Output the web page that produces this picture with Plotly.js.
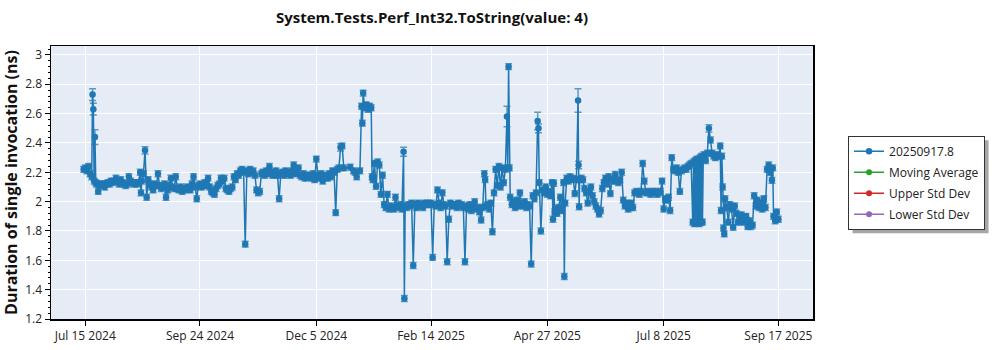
<!DOCTYPE html>
<html>
<head>
<meta charset="utf-8">
<script src="https://cdn.plot.ly/plotly-3.0.1.min.js"></script>
<style>html,body{margin:0;padding:0;background:#fff;}#chart{width:1000px;height:350px;}</style>
</head>
<body>
<div id="chart"></div>
<script>
const chartTitle = 'System.Tests.Perf_Int32.ToString(value: 4)';
const yTitle = 'Duration of single invocation (ns)';
const seriesNames = ['20250917.8', 'Moving Average', 'Upper Std Dev', 'Lower Std Dev'];
const seriesColors = ['#1f77b4', '#2ca02c', '#d62728', '#9467bd'];
const xTickDates = ['2024-07-15', '2024-09-24', '2024-12-05', '2025-02-14', '2025-04-27', '2025-07-08', '2025-09-17'];

const dates = [
  // Jul 2024
  '2024-07-14','2024-07-15','2024-07-16','2024-07-17','2024-07-18','2024-07-19','2024-07-19 12:00','2024-07-20','2024-07-20 12:00','2024-07-21','2024-07-21 12:00','2024-07-22','2024-07-23','2024-07-24','2024-07-25','2024-07-26','2024-07-27','2024-07-28','2024-07-29','2024-07-30','2024-07-31',
  // Aug 2024
  '2024-08-01','2024-08-02','2024-08-03','2024-08-04','2024-08-05','2024-08-06','2024-08-07','2024-08-08','2024-08-09','2024-08-10','2024-08-11','2024-08-12','2024-08-13','2024-08-14','2024-08-15','2024-08-16','2024-08-17','2024-08-18','2024-08-18 12:00','2024-08-19','2024-08-20','2024-08-21','2024-08-22','2024-08-23','2024-08-24','2024-08-25','2024-08-26','2024-08-27','2024-08-28','2024-08-29','2024-08-30','2024-08-31',
  // Sep 2024
  '2024-09-01','2024-09-02','2024-09-03','2024-09-04','2024-09-05','2024-09-06','2024-09-07','2024-09-08','2024-09-09','2024-09-10','2024-09-11','2024-09-12','2024-09-13','2024-09-14','2024-09-15','2024-09-16','2024-09-17','2024-09-18','2024-09-19','2024-09-20','2024-09-21','2024-09-22','2024-09-23','2024-09-24','2024-09-25','2024-09-26','2024-09-27','2024-09-28','2024-09-29','2024-09-30',
  // Oct 2024
  '2024-10-01','2024-10-02','2024-10-03','2024-10-04','2024-10-05','2024-10-06','2024-10-07','2024-10-08','2024-10-09','2024-10-10','2024-10-11','2024-10-12','2024-10-13','2024-10-14','2024-10-15','2024-10-16','2024-10-17','2024-10-18','2024-10-19','2024-10-20','2024-10-21','2024-10-22','2024-10-23','2024-10-24','2024-10-25','2024-10-26','2024-10-27','2024-10-28','2024-10-29','2024-10-30','2024-10-31',
  // Nov 2024
  '2024-11-01','2024-11-02','2024-11-03','2024-11-04','2024-11-05','2024-11-06','2024-11-07','2024-11-08','2024-11-09','2024-11-10','2024-11-11','2024-11-12','2024-11-13','2024-11-14','2024-11-15','2024-11-16','2024-11-17','2024-11-18','2024-11-19','2024-11-20','2024-11-21','2024-11-22','2024-11-23','2024-11-24','2024-11-25','2024-11-26','2024-11-27','2024-11-28','2024-11-29','2024-11-30',
  // Dec 2024
  '2024-12-01','2024-12-02','2024-12-03','2024-12-04','2024-12-05','2024-12-06','2024-12-07','2024-12-08','2024-12-09','2024-12-10','2024-12-11','2024-12-12','2024-12-13','2024-12-14','2024-12-15','2024-12-16','2024-12-17','2024-12-18','2024-12-19','2024-12-20','2024-12-21','2024-12-22','2024-12-26','2024-12-28','2024-12-29','2024-12-30',
  // Jan 2025
  '2025-01-01','2025-01-02','2025-01-02 12:00','2025-01-03','2025-01-04','2025-01-05','2025-01-06','2025-01-07','2025-01-08','2025-01-08 12:00','2025-01-09','2025-01-10','2025-01-11','2025-01-12','2025-01-13','2025-01-14','2025-01-15','2025-01-16','2025-01-17','2025-01-18','2025-01-19','2025-01-20','2025-01-21','2025-01-22','2025-01-23','2025-01-24','2025-01-25','2025-01-26','2025-01-27','2025-01-28','2025-01-28 12:00','2025-01-29','2025-01-30','2025-01-31',
  // Feb 2025
  '2025-02-01','2025-02-02','2025-02-03','2025-02-04','2025-02-05','2025-02-06','2025-02-07','2025-02-08','2025-02-09','2025-02-10','2025-02-11','2025-02-12','2025-02-13','2025-02-14','2025-02-15','2025-02-16','2025-02-17','2025-02-18','2025-02-19','2025-02-20','2025-02-21','2025-02-22','2025-02-23','2025-02-24','2025-02-25','2025-02-26','2025-02-27','2025-02-28',
  // Mar 2025
  '2025-03-01','2025-03-02','2025-03-03','2025-03-04','2025-03-05','2025-03-06','2025-03-07','2025-03-08','2025-03-09','2025-03-10','2025-03-11','2025-03-12','2025-03-13','2025-03-14','2025-03-15','2025-03-16','2025-03-17','2025-03-18','2025-03-19','2025-03-19 12:00','2025-03-20','2025-03-21','2025-03-22','2025-03-23','2025-03-24','2025-03-25','2025-03-26','2025-03-27','2025-03-28','2025-03-29','2025-03-30','2025-03-31',
  // Apr 2025
  '2025-04-01','2025-04-02','2025-04-02 12:00','2025-04-03','2025-04-03 12:00','2025-04-04','2025-04-05','2025-04-06','2025-04-07','2025-04-08','2025-04-09','2025-04-10','2025-04-11','2025-04-12','2025-04-13','2025-04-14','2025-04-15','2025-04-16','2025-04-17','2025-04-18','2025-04-19','2025-04-20','2025-04-21','2025-04-21 12:00','2025-04-22','2025-04-23','2025-04-24','2025-04-25','2025-04-26','2025-04-27','2025-04-28','2025-04-29','2025-04-30','2025-04-30 12:00',
  // May 2025
  '2025-05-01','2025-05-01 12:00','2025-05-02','2025-05-03','2025-05-04','2025-05-05','2025-05-06','2025-05-07','2025-05-07 12:00','2025-05-08','2025-05-09','2025-05-10','2025-05-11','2025-05-12','2025-05-13','2025-05-14','2025-05-15','2025-05-16','2025-05-16 08:00','2025-05-16 16:00','2025-05-17','2025-05-18','2025-05-19','2025-05-20','2025-05-21','2025-05-22','2025-05-23','2025-05-24','2025-05-25','2025-05-26','2025-05-27','2025-05-28','2025-05-29','2025-05-30','2025-05-31',
  // Jun 2025
  '2025-06-01','2025-06-02','2025-06-03','2025-06-04','2025-06-05','2025-06-06','2025-06-07','2025-06-08','2025-06-09','2025-06-10','2025-06-11','2025-06-12','2025-06-13','2025-06-14','2025-06-15','2025-06-16','2025-06-17','2025-06-18','2025-06-19','2025-06-20','2025-06-21','2025-06-22','2025-06-23','2025-06-24','2025-06-25','2025-06-26','2025-06-27','2025-06-28','2025-06-29','2025-06-30',
  // Jul 2025
  '2025-07-01','2025-07-02','2025-07-03','2025-07-04','2025-07-05','2025-07-06','2025-07-07','2025-07-08','2025-07-09','2025-07-10','2025-07-11','2025-07-12','2025-07-13','2025-07-14','2025-07-15','2025-07-16','2025-07-17','2025-07-18','2025-07-19','2025-07-20','2025-07-21','2025-07-22','2025-07-23','2025-07-24','2025-07-25','2025-07-26','2025-07-26 12:00','2025-07-27','2025-07-27 12:00','2025-07-28','2025-07-28 12:00','2025-07-29','2025-07-29 12:00','2025-07-30','2025-07-30 12:00','2025-07-31','2025-07-31 12:00',
  // Aug 2025
  '2025-08-01','2025-08-01 12:00','2025-08-02','2025-08-03','2025-08-04','2025-08-05','2025-08-06','2025-08-07','2025-08-08','2025-08-09','2025-08-10','2025-08-11','2025-08-12','2025-08-12 12:00','2025-08-13','2025-08-13 12:00','2025-08-14','2025-08-14 12:00','2025-08-15','2025-08-16','2025-08-17','2025-08-18','2025-08-19','2025-08-20','2025-08-21','2025-08-22','2025-08-23','2025-08-24','2025-08-25','2025-08-26','2025-08-27','2025-08-28','2025-08-29','2025-08-30','2025-08-31',
  // Sep 2025
  '2025-09-01','2025-09-02','2025-09-03','2025-09-04','2025-09-05','2025-09-06','2025-09-07','2025-09-08','2025-09-09','2025-09-10','2025-09-11','2025-09-12','2025-09-13','2025-09-13 12:00','2025-09-14','2025-09-15','2025-09-16','2025-09-17'
];

const durations = [
  // Jul 2024
  2.22,2.23,2.21,2.24,2.19,2.17,2.73,2.63,2.14,2.44,2.13,2.12,2.07,2.12,2.11,2.12,2.10,2.12,2.13,2.12,2.14,
  // Aug 2024
  2.13,2.14,2.16,2.14,2.12,2.15,2.13,2.12,2.11,2.12,2.17,2.14,2.13,2.12,2.13,2.12,2.13,2.20,2.06,2.14,2.19,2.35,2.03,2.15,2.12,2.10,2.08,2.12,2.11,2.19,2.11,2.09,
  // Sep 2024
  2.10,2.12,2.03,2.08,2.11,2.16,2.10,2.09,2.17,2.09,2.08,2.10,2.07,2.09,2.08,2.10,2.09,2.08,2.12,2.17,2.10,2.02,2.11,2.12,2.10,2.11,2.13,2.11,2.16,2.10,
  // Oct 2024
  2.07,2.06,2.05,2.09,2.11,2.12,2.16,2.14,2.16,2.09,2.08,2.07,2.09,2.10,2.17,2.15,2.19,2.18,2.21,2.22,2.20,1.71,2.21,2.19,2.22,2.20,2.21,2.18,2.08,2.06,2.07,
  // Nov 2024
  2.19,2.20,2.18,2.21,2.19,2.24,2.20,2.18,2.19,2.21,2.18,2.02,2.19,2.20,2.18,2.21,2.19,2.20,2.18,2.21,2.25,2.19,2.20,2.23,2.18,2.17,2.19,2.16,2.18,2.17,
  // Dec 2024
  2.18,2.16,2.19,2.15,2.29,2.18,2.16,2.19,2.14,2.17,2.18,2.16,2.19,2.17,2.21,2.20,1.925,2.22,2.23,2.37,2.38,2.23,2.235,2.21,2.20,2.17,
  // Jan 2025
  2.21,2.65,2.535,2.74,2.64,2.66,2.63,2.65,2.64,2.17,2.15,2.26,2.105,2.27,2.25,2.05,2.18,1.98,1.96,2.05,1.95,1.97,1.96,1.95,2.03,1.97,1.96,1.98,1.95,2.34,1.34,1.97,1.96,1.98,
  // Feb 2025
  1.97,1.99,1.565,1.98,1.96,1.99,1.97,1.98,1.96,1.99,1.98,1.99,1.98,1.99,1.62,1.98,1.97,2.08,1.99,1.96,2.06,1.98,1.97,1.59,1.88,1.99,1.97,1.98,
  // Mar 2025
  1.98,1.96,1.99,1.97,1.98,1.96,1.59,1.97,1.95,1.98,1.94,1.97,2.00,1.95,1.96,1.93,1.875,1.96,2.19,2.15,1.97,1.98,1.95,1.99,1.795,2.06,2.22,2.11,2.24,2.10,2.23,2.13,
  // Apr 2025
  2.22,2.58,2.23,2.92,2.23,2.03,1.98,2.00,1.96,2.01,1.97,2.06,1.99,1.97,2.00,1.96,1.98,1.97,1.575,2.04,2.02,2.06,2.55,2.50,2.13,1.80,2.08,2.06,2.10,2.05,2.07,2.04,2.13,1.88,
  // May 2025
  2.125,1.93,1.95,1.92,1.96,2.03,1.94,2.13,1.49,1.99,2.16,2.14,2.17,2.15,2.16,2.055,2.15,2.69,2.25,1.965,2.15,2.16,2.15,2.09,2.06,1.99,2.07,2.10,2.04,2.00,1.97,1.95,1.915,1.94,2.09,
  // Jun 2025
  2.13,2.16,2.12,2.17,2.055,2.15,2.14,2.185,2.14,2.13,2.15,2.20,2.01,1.97,1.99,1.95,1.96,1.99,1.96,2.06,2.07,2.06,2.05,2.07,2.26,2.14,2.06,2.07,2.06,2.05,
  // Jul 2025
  2.07,2.06,2.07,2.05,2.06,2.07,2.14,1.95,2.02,2.01,2.03,1.94,2.30,2.22,2.21,2.23,2.20,2.07,2.21,2.22,2.23,2.22,2.24,2.25,2.26,1.86,2.27,1.85,2.28,1.86,2.29,1.86,2.27,1.85,2.30,1.86,2.31,
  // Aug 2025
  1.86,2.30,2.32,2.28,2.33,2.50,2.42,2.33,2.31,2.30,2.32,2.31,2.38,1.94,2.31,2.10,1.82,1.78,2.02,1.96,1.86,1.98,1.95,1.825,1.97,1.92,1.86,1.89,1.91,1.86,1.88,1.90,1.83,1.87,1.83,
  // Sep 2025
  1.84,2.04,1.97,2.01,1.96,1.99,1.95,2.02,1.96,2.22,2.25,2.20,2.145,2.23,1.90,1.87,1.93,1.88
];

// error bar half-widths: typical value, plus the wider ones
const typicalError = 0.02;
const wideErrorDates = ['2024-07-19 12:00','2024-07-20','2024-07-21','2024-08-21','2024-12-20','2025-01-28','2025-04-02','2025-04-21','2025-04-21 12:00','2025-05-16','2025-05-16 08:00','2025-08-05'];
const wideErrorValues = [0.04, 0.04, 0.05, 0.025, 0.025, 0.03, 0.07, 0.06, 0.03, 0.08, 0.025, 0.025];

const errors = dates.map(d => {
  const i = wideErrorDates.indexOf(d);
  return i >= 0 ? wideErrorValues[i] : typicalError;
});

const FONT = "'Open Sans', 'Noto Sans', sans-serif";

const traces = [{
  type: 'scatter', mode: 'lines+markers', name: seriesNames[0], legendgroup: 'g0',
  x: dates, y: durations,
  line: {color: seriesColors[0], width: 1.5},
  marker: {color: seriesColors[0], size: 6.5},
  error_y: {type: 'data', array: errors, visible: true, color: 'rgba(31,119,180,0.7)', thickness: 1.5, width: 3.5}
}];
for (let k = 1; k < 4; k++) {
  traces.push({
    type: 'scatter', mode: 'lines+markers', name: seriesNames[k], legendgroup: 'g' + k,
    x: [xTickDates[0]], y: [null],
    line: {color: seriesColors[k], width: 1.5},
    marker: {color: seriesColors[k], size: 6}
  });
}

const layout = {
  width: 1000, height: 350,
  margin: {l: 51, r: 187, t: 46, b: 31, pad: 0},
  paper_bgcolor: '#ffffff', plot_bgcolor: '#e5ecf6',
  font: {family: FONT, size: 12, color: '#222'},
  title: {text: chartTitle, font: {family: FONT, size: 15, weight: 'bold', color: '#111'}, x: 0.5, xref: 'paper', y: 0.949, yref: 'container', yanchor: 'middle'},
  showlegend: true,
  legend: {x: 1.046, y: 0.671, xanchor: 'left', yanchor: 'top', bgcolor: '#ffffff', bordercolor: '#333', borderwidth: 1, font: {family: FONT, size: 12, color: '#222'}, tracegroupgap: 2, traceorder: 'grouped'},
  xaxis: {
    type: 'date', range: ['2024-06-23 19:00', '2025-10-08 10:00'],
    tickmode: 'array', tickvals: xTickDates, tickformat: '%b %-d %Y',
    ticks: 'outside', ticklen: 5, tickcolor: '#000', tickwidth: 1,
    showline: true, linecolor: '#000', linewidth: 1.5, mirror: true,
    showgrid: true, gridcolor: '#ffffff', gridwidth: 1, zeroline: false,
    tickfont: {family: FONT, size: 12, color: '#222'}
  },
  yaxis: {
    range: [1.2, 3.061], tick0: 0, dtick: 0.2,
    ticks: 'outside', ticklen: 5, tickcolor: '#000', tickwidth: 1,
    minor: {dtick: 0.04, ticks: 'outside', ticklen: 2, tickcolor: '#000', showgrid: false},
    showline: true, linecolor: '#000', linewidth: 1.5, mirror: true,
    showgrid: true, gridcolor: '#ffffff', gridwidth: 1, zeroline: false,
    tickfont: {family: FONT, size: 12, color: '#222'},
    title: {text: yTitle, font: {family: FONT, size: 16, weight: 'bold', color: '#111'}, standoff: 6}
  }
};

const gd = document.getElementById('chart');
Plotly.newPlot(gd, traces, layout, {displayModeBar: false, staticPlot: true}).then(() => {
  const bg = gd.querySelector('.legend .bg');
  if (!bg) return;
  const r = bg.getBoundingClientRect();
  const s = gd._fullLayout._size;
  const px = v => (v - s.l) / s.w;
  const py = v => 1 - (v - s.t) / s.h;
  const off = 4;
  Plotly.relayout(gd, {shapes: [{
    type: 'rect', xref: 'paper', yref: 'paper', layer: 'above',
    x0: px(r.left + off), x1: px(r.right + off), y0: py(r.bottom + off), y1: py(r.top + off),
    fillcolor: 'rgba(0,0,0,0.35)', line: {width: 0}
  }]});
});
</script>
</body>
</html>
